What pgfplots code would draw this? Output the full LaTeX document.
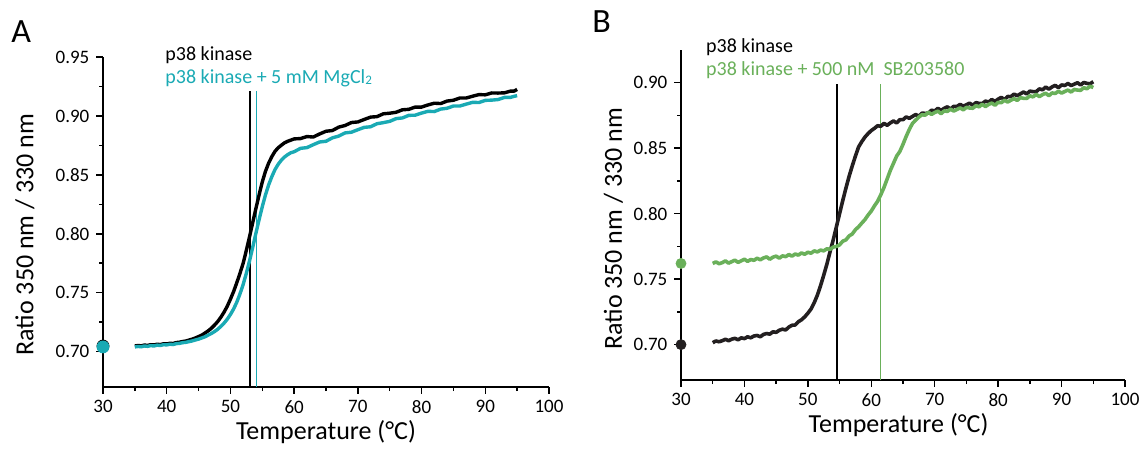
\documentclass[border=0pt]{standalone}
\usepackage{fontspec}
\setmainfont{Carlito}
\usepackage{pgfplots}
\pgfplotsset{compat=1.18}
\definecolor{cyanA}{HTML}{1AAAB4}
\definecolor{greenB}{HTML}{6AB05A}
\definecolor{blackB}{HTML}{231F20}
\pgfplotsset{
  myax/.style={
    scale only axis, width=223pt, height=165pt,
    axis x line*=bottom, axis y line*=left,
    axis line style={line width=0.75pt,-},
    every tick/.style={black,line width=0.75pt},
    tick align=outside,
    major tick length=3.3pt, minor tick length=2pt,
    xmin=30, xmax=100, xtick={30,40,...,100}, minor x tick num=1,
    ytick={0.70,0.75,0.80,0.85,0.90,0.95}, minor y tick num=1,
    /pgf/number format/assume math mode=true,
    yticklabel style={/pgf/number format/.cd,fixed,fixed zerofill,precision=2},
    ticklabel style={font=\fontsize{9.5}{11}\selectfont},
    label style={font=\fontsize{13}{15}\selectfont},
    xlabel={Temperature (°C)},
    ylabel={Ratio 350 nm / 330 nm},
    clip=false,
  }
}
\begin{document}
\begin{tikzpicture}[x=1pt,y=1pt]
\useasboundingbox (0,0) rectangle (570,224.5);
\node[anchor=north west,inner sep=0pt,font=\fontsize{17}{19}\selectfont] at (5.5,214.5) {A};
\node[anchor=north west,inner sep=0pt,font=\fontsize{17}{19}\selectfont] at (296,219.5) {B};
% ---------- Panel A
\begin{axis}[myax, at={(51.5pt,31pt)}, anchor=south west,
  ymin=0.67, ymax=0.95,
  xlabel style={at={(axis description cs:0.5,-0.136)},anchor=center},
  ylabel style={at={(axis description cs:-0.175,0.462)},anchor=center}]
\addplot[black,line width=0.6pt] coordinates {(53.07,0.67) (53.07,0.9214)};
\addplot[cyanA,line width=0.6pt] coordinates {(54.12,0.67) (54.12,0.9214)};
\addplot[black,line width=1.7pt,line join=round] coordinates {
(35.0,0.7048)(35.5,0.7052)(36,0.7049)(36.5,0.7056)(37,0.7053)(37.5,0.7059)(38,0.7057)(38.5,0.7063)(39,0.7060)(39.5,0.7067)(40,0.7065)(40.5,0.7071)(41,0.7069)(41.5,0.7077)(42,0.7080)(42.5,0.7086)(43,0.7090)(43.5,0.7098)(44,0.7106)(44.5,0.7116)(45,0.7128)(45.5,0.7140)(46,0.7158)(46.5,0.7176)(47,0.7198)(47.5,0.7225)(48,0.7255)(48.5,0.7292)(49,0.7335)(49.5,0.7385)(50,0.7445)(50.5,0.7510)(51,0.7585)(51.5,0.7665)(52,0.7750)(52.5,0.7860)(53,0.7975)(53.5,0.8095)(54,0.8215)(54.5,0.8330)(55,0.8440)(55.5,0.8530)(56,0.8600)(56.5,0.8655)(57,0.8700)(57.5,0.8730)(58,0.8752)(58.5,0.8772)(59,0.8785)(59.5,0.8795)(60,0.8805)(61,0.8808)(62,0.8825)(63,0.8821)(64,0.8847)(65,0.8870)(66,0.8876)(67,0.8905)(68,0.8919)(69,0.8944)(70,0.8949)(71,0.8970)(72,0.8990)(73,0.8994)(74,0.9018)(75,0.9023)(76,0.9031)(77,0.9052)(78,0.9056)(79,0.9075)(80,0.9075)(81,0.9093)(82,0.9108)(83,0.9105)(84,0.9126)(85,0.9133)(86,0.9152)(87,0.9152)(88,0.9167)(89,0.9181)(90,0.9179)(91,0.9195)(92,0.9194)(93,0.9196)(94,0.9211)(94.5,0.9210)(95,0.9225)};
\addplot[cyanA,line width=1.7pt,line join=round] coordinates {
(35.0,0.7040)(35.5,0.7044)(36,0.7041)(36.5,0.7048)(37,0.7045)(37.5,0.7051)(38,0.7048)(38.5,0.7055)(39,0.7052)(39.5,0.7059)(40,0.7057)(40.5,0.7063)(41,0.7060)(41.5,0.7068)(42,0.7070)(42.5,0.7076)(43,0.7079)(43.5,0.7085)(44,0.7091)(44.5,0.7099)(45,0.7106)(45.5,0.7116)(46,0.7126)(46.5,0.7140)(47,0.7154)(47.5,0.7170)(48,0.7190)(48.5,0.7214)(49,0.7242)(49.5,0.7275)(50,0.7315)(50.5,0.7362)(51,0.7420)(51.5,0.7490)(52,0.7570)(52.5,0.7665)(53,0.7770)(53.5,0.7885)(54,0.8005)(54.5,0.8120)(55,0.8230)(55.5,0.8330)(56,0.8415)(56.5,0.8485)(57,0.8545)(57.5,0.8590)(58,0.8625)(58.5,0.8652)(59,0.8672)(59.5,0.8688)(60,0.8696)(61,0.8725)(62,0.8731)(63,0.8756)(64,0.8779)(65,0.8785)(66,0.8814)(67,0.8829)(68,0.8856)(69,0.8862)(70,0.8883)(71,0.8903)(72,0.8908)(73,0.8934)(74,0.8943)(75,0.8954)(76,0.8977)(77,0.8983)(78,0.9005)(79,0.9006)(80,0.9024)(81,0.9039)(82,0.9037)(83,0.9058)(84,0.9065)(85,0.9084)(86,0.9084)(87,0.9100)(88,0.9115)(89,0.9114)(90,0.9132)(91,0.9134)(92,0.9139)(93,0.9157)(94,0.9158)(94.5,0.9166)(95,0.9172)};
\addplot[only marks,mark=*,mark size=3pt,black] coordinates {(30,0.7048)};
\addplot[only marks,mark=*,mark size=3pt,cyanA,mark options={fill=cyanA,draw=cyanA}] coordinates {(30,0.7040)};
\node[anchor=west,inner sep=0pt,font=\fontsize{10}{11}\selectfont,text=black] at (axis cs:39.73,0.9517) {p38 kinase};
\node[anchor=west,inner sep=0pt,font=\fontsize{10}{11}\selectfont,text=cyanA] at (axis cs:39.73,0.932) {p38 kinase + 5 mM MgCl\raisebox{-0.1ex}{\fontsize{6.5}{7}\selectfont 2}};
\end{axis}
% ---------- Panel B
\begin{axis}[myax, width=222pt, at={(340.5pt,34.5pt)}, anchor=south west,
  ymin=0.673, ymax=0.925, ytick={0.70,0.75,0.80,0.85,0.90},
  xlabel style={at={(axis description cs:0.49,-0.136)},anchor=center},
  ylabel style={at={(axis description cs:-0.1525,0.458)},anchor=center}]
\addplot[black,line width=0.6pt] coordinates {(54.6,0.673) (54.6,0.899)};
\addplot[greenB,line width=0.6pt] coordinates {(61.5,0.673) (61.5,0.899)};
\addplot[blackB,line width=1.8pt,line join=round] coordinates {
(35.0,0.7015)(35.5,0.7028)(36.0,0.7022)(36.5,0.7030)(37.0,0.7041)(37.5,0.7030)(38.0,0.7042)(38.5,0.7048)(39.0,0.7037)(39.5,0.7052)(40.0,0.7046)(40.5,0.7060)(41.0,0.7052)(41.5,0.7066)(42.0,0.7070)(42.5,0.7060)(43.0,0.7078)(43.5,0.7085)(44.0,0.7080)(44.5,0.7098)(45.0,0.7094)(45.5,0.7110)(46.0,0.7118)(46.5,0.7112)(47.0,0.7134)(47.5,0.7148)(48.0,0.7150)(48.5,0.7175)(49.0,0.7190)(49.5,0.7212)(50,0.7240)(50.5,0.7272)(51,0.7320)(51.5,0.7378)(52,0.7450)(52.5,0.7530)(53,0.7615)(53.5,0.7710)(54,0.7800)(54.5,0.7900)(55,0.8000)(55.5,0.8100)(56,0.8195)(56.5,0.8285)(57,0.8365)(57.5,0.8440)(58,0.8510)(58.5,0.8550)(59,0.8585)(59.5,0.8612)(60,0.8635)(60.5,0.8652)(61.0,0.8672)(61.5,0.8667)(62.0,0.8690)(62.5,0.8675)(63.0,0.8693)(63.5,0.8708)(64.0,0.8693)(64.5,0.8718)(65.0,0.8718)(65.5,0.8739)(66.0,0.8728)(66.5,0.8743)(67.0,0.8757)(67.5,0.8745)(68.0,0.8768)(68.5,0.8766)(69.0,0.8768)(69.5,0.8790)(70.0,0.8784)(70.5,0.8805)(71.0,0.8789)(71.5,0.8805)(72.0,0.8816)(72.5,0.8799)(73.0,0.8820)(73.5,0.8818)(74.0,0.8835)(74.5,0.8821)(75.0,0.8832)(75.5,0.8844)(76.0,0.8828)(76.5,0.8848)(77.0,0.8842)(77.5,0.8841)(78.0,0.8860)(78.5,0.8852)(79.0,0.8872)(79.5,0.8857)(80.0,0.8875)(80.5,0.8888)(81.0,0.8872)(81.5,0.8895)(82.0,0.8894)(82.5,0.8913)(83.0,0.8901)(83.5,0.8915)(84.0,0.8929)(84.5,0.8915)(85.0,0.8936)(85.5,0.8932)(86.0,0.8932)(86.5,0.8953)(87.0,0.8946)(87.5,0.8967)(88.0,0.8951)(88.5,0.8968)(89.0,0.8980)(89.5,0.8962)(90.0,0.8983)(90.5,0.8979)(91.0,0.8994)(91.5,0.8979)(92.0,0.8989)(92.5,0.9000)(93.0,0.8983)(93.5,0.9002)(94.0,0.8995)(94.5,0.8992)(95.0,0.9008)};
\addplot[greenB,line width=1.8pt,line join=round] coordinates {
(35.0,0.7620)(35.5,0.7632)(36.0,0.7618)(36.5,0.7626)(37.0,0.7640)(37.5,0.7622)(38.0,0.7634)(38.5,0.7645)(39.0,0.7628)(39.5,0.7640)(40.0,0.7652)(40.5,0.7636)(41.0,0.7650)(41.5,0.7644)(42.0,0.7660)(42.5,0.7648)(43.0,0.7662)(43.5,0.7670)(44.0,0.7652)(44.5,0.7668)(45.0,0.7676)(45.5,0.7660)(46.0,0.7678)(46.5,0.7672)(47.0,0.7688)(47.5,0.7676)(48.0,0.7692)(48.5,0.7684)(49.0,0.7700)(49.5,0.7690)(50.0,0.7706)(50.5,0.7698)(51.0,0.7716)(51.5,0.7708)(52.0,0.7722)(52.5,0.7716)(53.0,0.7732)(53.5,0.7728)(54.0,0.7745)(54.5,0.7750)(55,0.7762)(55.5,0.7790)(56,0.7800)(56.5,0.7830)(57,0.7845)(57.5,0.7878)(58,0.7900)(58.5,0.7928)(59,0.7955)(59.5,0.7990)(60,0.8020)(60.5,0.8060)(61,0.8095)(61.5,0.8145)(62,0.8200)(62.5,0.8265)(63,0.8330)(63.5,0.8385)(64,0.8440)(64.5,0.8475)(65,0.8530)(65.5,0.8590)(66,0.8644)(66.5,0.8690)(67,0.8715)(67.5,0.8738)(68.0,0.8756)(68.5,0.8752)(69.0,0.8775)(69.5,0.8758)(70.0,0.8773)(70.5,0.8783)(71.0,0.8764)(71.5,0.8785)(72.0,0.8781)(72.5,0.8798)(73.0,0.8784)(73.5,0.8796)(74.0,0.8808)(74.5,0.8793)(75.0,0.8812)(75.5,0.8807)(76.0,0.8805)(76.5,0.8825)(77.0,0.8816)(77.5,0.8836)(78.0,0.8818)(78.5,0.8834)(79.0,0.8845)(79.5,0.8828)(80.0,0.8850)(80.5,0.8848)(81.0,0.8866)(81.5,0.8853)(82.0,0.8866)(82.5,0.8879)(83.0,0.8865)(83.5,0.8886)(84.0,0.8881)(84.5,0.8880)(85.0,0.8900)(85.5,0.8892)(86.0,0.8911)(86.5,0.8894)(87.0,0.8909)(87.5,0.8920)(88.0,0.8901)(88.5,0.8922)(89.0,0.8918)(89.5,0.8935)(90.0,0.8921)(90.5,0.8933)(91.0,0.8944)(91.5,0.8929)(92.0,0.8949)(92.5,0.8944)(93.0,0.8942)(93.5,0.8962)(94.0,0.8954)(94.5,0.8974)(95.0,0.8963)};
\addplot[only marks,mark=*,mark size=2.5pt,blackB] coordinates {(30,0.7000)};
\addplot[only marks,mark=*,mark size=2.5pt,greenB,mark options={fill=greenB,draw=greenB}] coordinates {(30,0.7620)};
\node[anchor=west,inner sep=0pt,font=\fontsize{10}{11}\selectfont,text=black] at (axis cs:33.9,0.9273) {p38 kinase};
\node[anchor=west,inner sep=0pt,font=\fontsize{10}{11}\selectfont,text=greenB] at (axis cs:33.9,0.9097) {p38 kinase + 500 nM\ \ SB203580};
\end{axis}
\end{tikzpicture}
\end{document}
